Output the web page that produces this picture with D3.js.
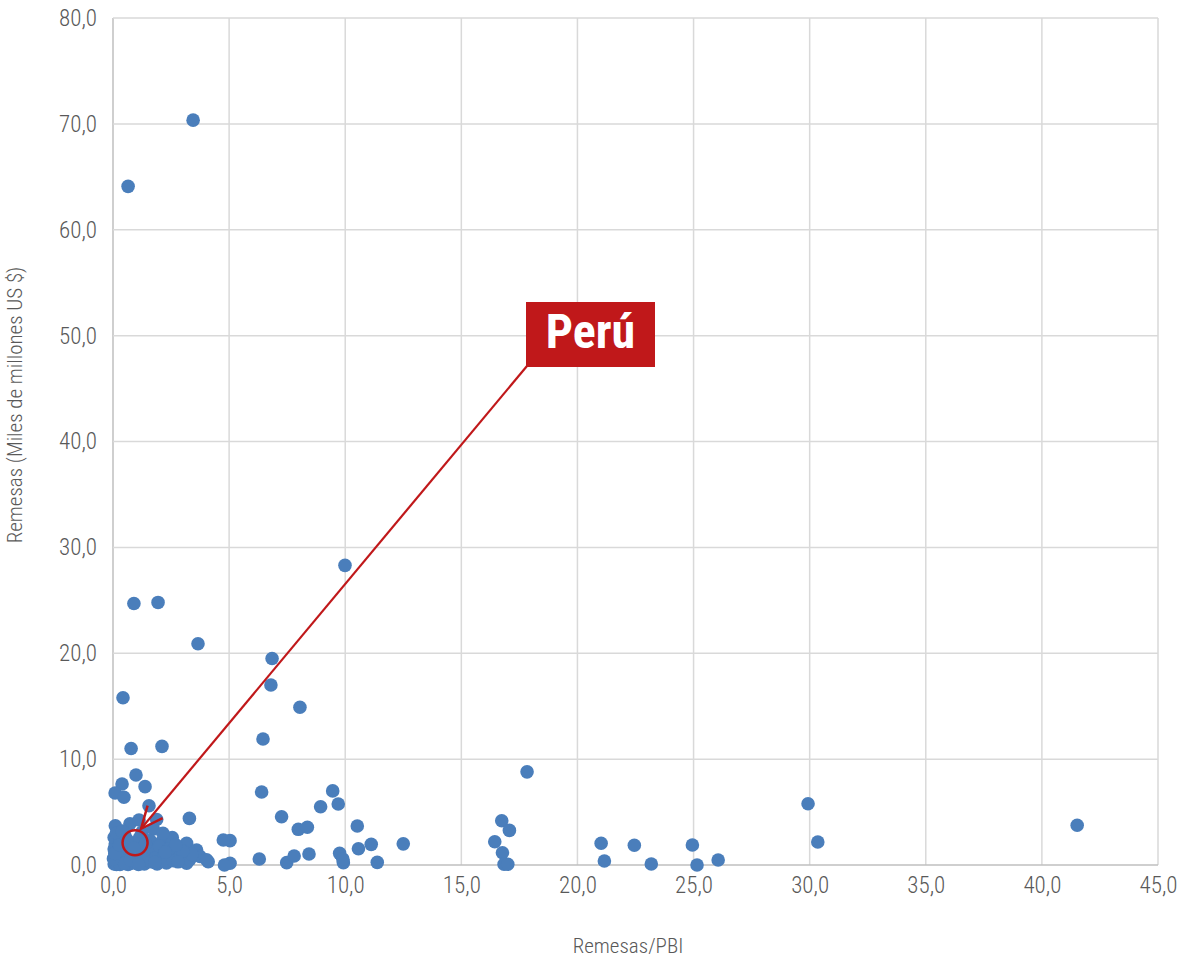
<!DOCTYPE html>
<html>
<head>
<meta charset="utf-8">
<script src="https://cdn.jsdelivr.net/npm/d3@7"></script>
<style>
  body { margin: 0; background: #fff; }
  svg text { font-family: "Roboto", "Liberation Sans Narrow", sans-serif; font-stretch: condensed; font-weight: 300; }
</style>
</head>
<body>
<div id="chart"></div>
<script>
// Remesas/PBI (%) per country
const remesasPBI = [
  3.45, 0.65, 9.99, 0.9, 1.94, 3.66, 6.85, 6.8, 8.05, 0.43,
  6.46, 0.78, 2.11, 17.83, 0.99, 0.39, 0.09, 0.47, 1.38, 1.55,
  0.1, 0.73, 1.12, 1.88, 3.29, 1.74, 6.4, 9.46, 9.7, 8.94,
  7.26, 7.98, 8.37, 10.52, 5.04, 4.75, 10.57, 11.12, 12.5, 6.3,
  7.48, 7.8, 8.44, 9.76, 9.92, 9.9, 11.38, 5.04, 4.8, 4.1,
  3.24, 3.17, 16.74, 17.07, 16.44, 16.77, 16.84, 17.0, 21.02, 21.16,
  22.45, 23.18, 24.95, 25.15, 26.06, 29.93, 30.35, 41.52,
  2.1, 2.5, 2.55, 3.17, 2.45, 2.88, 3.6, 3.75, 4.03, 3.3,
  3.4, 3.0, 0.05, 0.1, 0.15, 0.2, 0.25, 0.05, 0.1, 0.05,
  0.3, 0.35, 0.4, 0.45, 0.5, 0.55, 0.6, 0.65, 0.7, 0.8,
  0.85, 0.95, 1.0, 1.05, 1.15, 1.2, 1.3, 1.35, 1.45, 1.5,
  1.6, 1.65, 1.75, 1.85, 1.9, 2.0, 2.05, 2.2, 2.3, 2.4,
  2.6, 2.7, 0.15, 0.3, 0.5, 0.75, 1.1, 0.2, 0.4, 1.25,
  2.15, 0.02, 0.08, 0.28, 0.6, 1.4, 1.8, 2.25, 2.8, 0.9
];
// Remesas (miles de millones US$)
const remesas = [
  70.35, 64.1, 28.3, 24.7, 24.8, 20.9, 19.5, 17.0, 14.9, 15.8,
  11.9, 11.0, 11.2, 8.8, 8.5, 7.65, 6.8, 6.4, 7.4, 5.6,
  3.7, 3.9, 4.25, 4.3, 4.4, 3.4, 6.9, 7.0, 5.76, 5.5,
  4.56, 3.37, 3.56, 3.68, 2.3, 2.36, 1.54, 1.95, 2.0, 0.57,
  0.22, 0.85, 1.04, 1.1, 0.22, 0.55, 0.25, 0.16, 0.0, 0.31,
  0.53, 0.16, 4.18, 3.27, 2.2, 1.16, 0.07, 0.07, 2.05, 0.38,
  1.86, 0.1, 1.89, 0.0, 0.47, 5.79, 2.17, 3.75,
  2.2, 2.5, 2.6, 2.05, 1.1, 0.8, 1.42, 0.8, 0.5, 0.5,
  1.0, 1.3, 0.1, 0.3, 0.05, 0.6, 1.0, 1.5, 2.0, 2.6,
  2.3, 1.6, 0.2, 0.8, 2.8, 1.3, 0.4, 0.05, 1.8, 0.9,
  0.2, 2.1, 1.2, 0.3, 2.6, 0.7, 1.6, 0.1, 0.5, 1.0,
  2.3, 0.3, 1.4, 0.7, 0.1, 1.8, 0.4, 0.9, 0.2, 1.5,
  0.4, 1.9, 3.0, 0.05, 0.15, 0.5, 0.05, 1.3, 3.2, 3.1,
  3.0, 0.6, 1.1, 1.9, 2.4, 2.0, 0.25, 1.2, 0.3, 1.6
];
const xTicks = [0, 5, 10, 15, 20, 25, 30, 35, 40, 45];
const yTicks = [0, 10, 20, 30, 40, 50, 60, 70, 80];
const peru = { x: 0.95, y: 2.1, label: "Perú" };

const width = 1177, height = 958;
const margin = { top: 18, right: 19, bottom: 93, left: 113 };
const innerW = width - margin.left - margin.right;
const innerH = height - margin.top - margin.bottom;

const svg = d3.select("#chart").append("svg")
  .attr("width", width)
  .attr("height", height);

const g = svg.append("g").attr("transform", `translate(${margin.left},${margin.top})`);

const x = d3.scaleLinear().domain([0, 45]).range([0, innerW]);
const y = d3.scaleLinear().domain([0, 80]).range([innerH, 0]);
const fmt = v => d3.format(".1f")(v).replace(".", ",");

// gridlines
g.append("g").selectAll("line.v")
  .data(xTicks)
  .join("line")
  .attr("x1", d => x(d)).attr("x2", d => x(d))
  .attr("y1", 0).attr("y2", innerH)
  .attr("stroke", d => d === 0 ? "#bfbfbf" : "#d9d9d9")
  .attr("stroke-width", 1.5);
g.append("g").selectAll("line.h")
  .data(yTicks)
  .join("line")
  .attr("x1", 0).attr("x2", innerW)
  .attr("y1", d => y(d)).attr("y2", d => y(d))
  .attr("stroke", d => d === 0 ? "#bfbfbf" : "#d9d9d9")
  .attr("stroke-width", 1.5);

// axes (labels only)
const xAxis = g.append("g")
  .attr("transform", `translate(0,${innerH})`)
  .call(d3.axisBottom(x).tickValues(xTicks).tickFormat(fmt).tickSize(0).tickPadding(12));
const yAxis = g.append("g")
  .call(d3.axisLeft(y).tickValues(yTicks).tickFormat(fmt).tickSize(0).tickPadding(16));
[xAxis, yAxis].forEach(a => {
  a.select(".domain").remove();
  a.selectAll("text").attr("fill", "#595959").style("font-size", "23px");
});

// points
g.append("g").selectAll("circle")
  .data(d3.range(remesasPBI.length))
  .join("circle")
  .attr("cx", i => x(remesasPBI[i]))
  .attr("cy", i => y(remesas[i]))
  .attr("r", 6.8)
  .attr("fill", "#4a7ebb");

// Peru highlight
const red = "#c0181a";
const px = x(peru.x), py = y(peru.y);
g.append("circle")
  .attr("cx", px).attr("cy", py).attr("r", 12.5)
  .attr("fill", "none").attr("stroke", red).attr("stroke-width", 2.5);

const boxX = 526 - margin.left, boxY = 302 - margin.top, boxW = 129, boxH = 65;
const tipX = px + 6, tipY = py - 14;
const sx = boxX + 1, sy = boxY + boxH - 1;
g.append("line")
  .attr("x1", sx).attr("y1", sy).attr("x2", tipX).attr("y2", tipY)
  .attr("stroke", red).attr("stroke-width", 2.2);
const ang = Math.atan2(sy - tipY, sx - tipX);
const headLen = 24, spread = 0.42;
g.append("path")
  .attr("d", `M${tipX + headLen * Math.cos(ang - spread)},${tipY + headLen * Math.sin(ang - spread)}L${tipX},${tipY}L${tipX + headLen * Math.cos(ang + spread)},${tipY + headLen * Math.sin(ang + spread)}`)
  .attr("fill", "none").attr("stroke", red).attr("stroke-width", 2.5);

g.append("rect")
  .attr("x", boxX).attr("y", boxY).attr("width", boxW).attr("height", boxH)
  .attr("fill", red);
g.append("text")
  .attr("x", boxX + boxW / 2).attr("y", boxY + boxH / 2 + 1)
  .attr("text-anchor", "middle").attr("dominant-baseline", "middle")
  .attr("fill", "#fff")
  .style("font-size", "48px").style("font-weight", "700")
  .text(peru.label);

// axis titles
svg.append("text")
  .attr("x", 628).attr("y", 953)
  .attr("text-anchor", "middle")
  .attr("fill", "#595959").style("font-size", "21px")
  .text("Remesas/PBI");
svg.append("text")
  .attr("transform", `translate(22,${405}) rotate(-90)`)
  .attr("text-anchor", "middle")
  .attr("fill", "#595959").style("font-size", "21px")
  .text("Remesas (Miles de millones US $)");
</script>
</body>
</html>
